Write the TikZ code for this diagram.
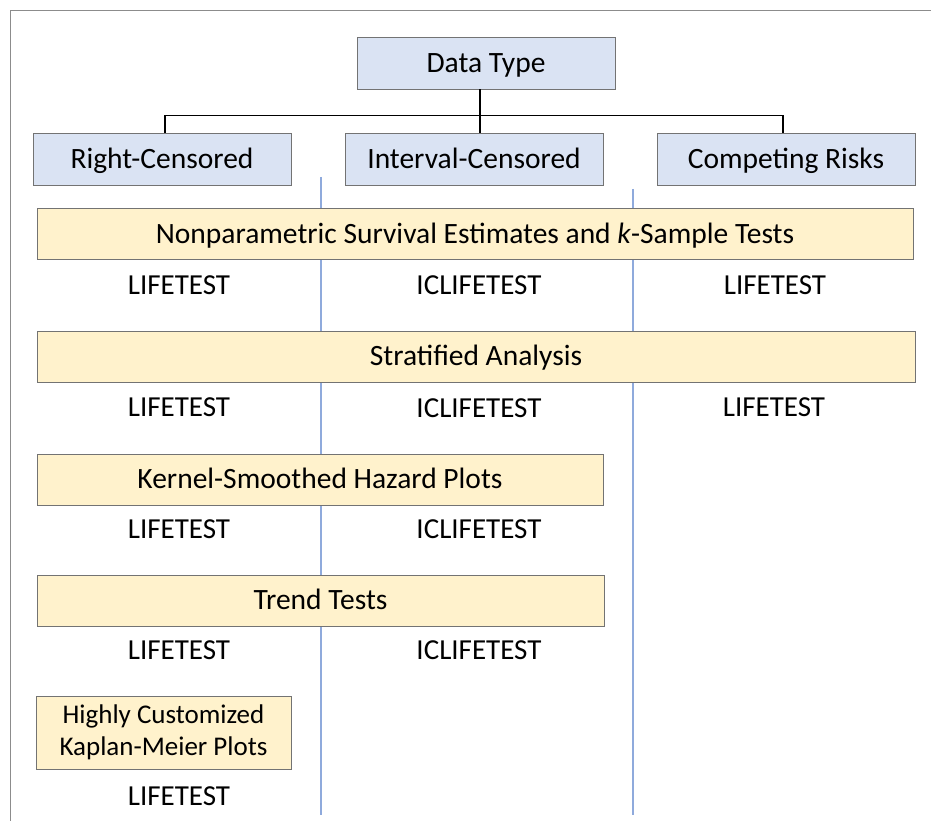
\documentclass[tikz,border=0pt]{standalone}
\usepackage{fontspec}
\setmainfont{Carlito}
\usetikzlibrary{positioning}

\definecolor{typeblue}{HTML}{DAE3F3}
\definecolor{taskyellow}{HTML}{FFF2CC}
\definecolor{colline}{HTML}{8FAADC}

\begin{document}
\begin{tikzpicture}[x=1pt, y=-1pt,
    capline/.style={text height=18.6pt, text depth=0pt},
    typebox/.style={draw=black!55, fill=typeblue, line width=0.9pt, minimum width=258pt,
        minimum height=52pt, inner sep=0pt, capline,
        font=\fontsize{29.5}{34}\selectfont},
    taskbox/.style={draw=black!55, fill=taskyellow, line width=0.9pt, minimum height=51pt,
        inner sep=0pt, font=\fontsize{29.5}{34}\selectfont},
    proc/.style={font=\fontsize{29}{34}\selectfont, inner sep=0pt,
        text height=18.3pt, text depth=0pt},
    conn/.style={line width=1.6pt, black}]
    \useasboundingbox (0,0) rectangle (931,821);

    % Frame around the page
    \draw[black!45, line width=0.8pt] (10,821) -- (10,10) -- (931,10);

    % Column separators
    \draw[colline, line width=2.8pt] (321,177) -- (321,815);
    \draw[colline, line width=2.8pt] (633,189) -- (633,815);

    % Data types
    \node[typebox] (dt) at (486,63) {Data Type};
    \node[typebox] (rc) at (162,159) {Right-Censored};
    \node[typebox] (ic) at (474,159) {Interval-Censored};
    \node[typebox] (cr) at (786,159) {Competing Risks};

    % Tree connectors
    \draw[conn] ([xshift=3pt]rc.north) -- ++(0,-17) -| ([xshift=-3pt]cr.north);
    \draw[conn] ([xshift=-6pt]dt.south) -- ([xshift=6pt]ic.north);

    % Analysis tasks
    \node[taskbox, capline, minimum width=876pt] (np) at (475,234)
        {Nonparametric Survival Estimates and \textit{k}-Sample Tests};
    \node[taskbox, capline, minimum width=878pt] (sa) at (476,356.5) {Stratified Analysis};
    \node[taskbox, capline, minimum width=566pt] (kh) at (320,479.5) {Kernel-Smoothed Hazard Plots};
    \node[taskbox, capline, minimum width=567pt] (tt) at (320.5,600.5) {Trend Tests};
    \node[taskbox, minimum width=255pt, minimum height=73pt, align=center,
        font=\fontsize{27}{32}\selectfont] (km) at (163.5,732.5)
        {\raisebox{-3pt}{Highly Customized}\\\raisebox{-3pt}{Kaplan-Meier Plots}};

    % Procedures
    \node[proc] (np1) at (179,285) {LIFETEST};
    \node[proc] (np2) at (479,285) {ICLIFETEST};
    \node[proc] (np3) at (775,285) {LIFETEST};
    \node[proc] (sa1) at (179,407) {LIFETEST};
    \node[proc] (sa2) at (479,408) {ICLIFETEST};
    \node[proc] (sa3) at (774,407) {LIFETEST};
    \node[proc] (kh1) at (179,529) {LIFETEST};
    \node[proc] (kh2) at (479,529) {ICLIFETEST};
    \node[proc] (tt1) at (179,650) {LIFETEST};
    \node[proc] (tt2) at (479,650) {ICLIFETEST};
    \node[proc] (km1) at (179,796) {LIFETEST};
\end{tikzpicture}
\end{document}
